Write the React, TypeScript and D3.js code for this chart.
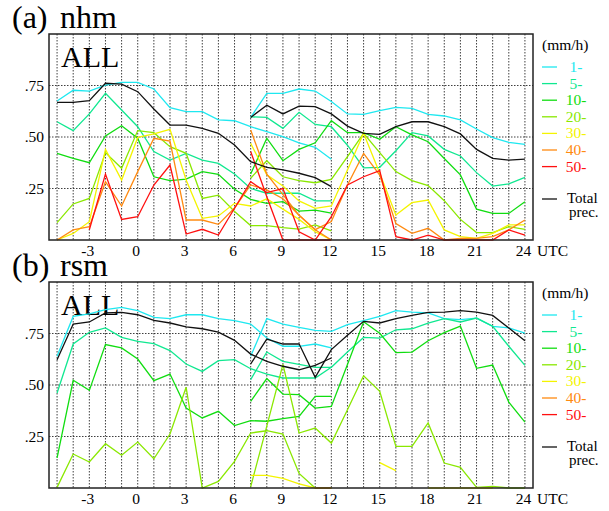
import React from 'react';
import * as d3 from 'd3';

// ---------- axes / labels ----------
const hoursSeg1 = d3.range(-5, 13); // first forecast run: -5 .. 12
const hoursSeg2 = d3.range(7, 25);  // second forecast run: 7 .. 24
const gridHours = d3.range(-5, 25);
const xTicks = [-3, 0, 3, 6, 9, 12, 15, 18, 21, 24];
const yTicks = [0.25, 0.5, 0.75];
const yTickLabels = ['.25', '.50', '.75'];
const classLabels = ['1-', '5-', '10-', '20-', '30-', '40-', '50-'];
const classColors = ['#1ee8f0', '#10e890', '#10dd10', '#8ae800', '#f4f400', '#ff8a10', '#ff1010'];
const totalLabel = ['Total', 'prec.'];

type V = number | null;
const N = null;

// ---------- (a) nhm ----------
const nhmTotal1: V[] = [0.668, 0.668, 0.676, 0.761, 0.757, 0.72, 0.636, 0.558, 0.558, 0.542, 0.518, 0.461, 0.38, 0.353, 0.34, 0.324, 0.303, 0.259];
const nhmTotal2: V[] = [0.595, 0.654, 0.612, 0.65, 0.647, 0.612, 0.553, 0.518, 0.513, 0.55, 0.574, 0.574, 0.55, 0.515, 0.44, 0.396, 0.388, 0.393];
const nhm1mm1: V[] = [0.675, 0.727, 0.723, 0.752, 0.765, 0.765, 0.733, 0.642, 0.623, 0.623, 0.583, 0.579, 0.55, 0.526, 0.502, 0.472, 0.45, 0.392];
const nhm1mm2: V[] = [0.595, 0.712, 0.712, 0.733, 0.723, 0.672, 0.612, 0.61, 0.628, 0.644, 0.639, 0.61, 0.602, 0.583, 0.539, 0.497, 0.474, 0.464];
const nhm5mm1: V[] = [0.574, 0.531, 0.612, 0.712, 0.631, 0.55, 0.429, 0.388, 0.42, 0.388, 0.372, 0.32, 0.25, 0.227, 0.227, 0.227, 0.19, 0.19];
const nhm5mm2: V[] = [0.598, 0.595, 0.542, 0.62, 0.561, 0.55, 0.46, 0.35, 0.353, 0.433, 0.521, 0.505, 0.44, 0.408, 0.327, 0.262, 0.272, 0.304];
const nhm10mm1: V[] = [0.421, 0.396, 0.375, 0.505, 0.555, 0.494, 0.307, 0.288, 0.296, 0.332, 0.319, 0.246, 0.197, 0.178, 0.186, 0.14, 0.145, 0.13];
const nhm10mm2: V[] = [0.32, 0.494, 0.385, 0.44, 0.472, 0.579, 0.521, 0.521, 0.489, 0.55, 0.51, 0.477, 0.396, 0.316, 0.15, 0.129, 0.129, 0.186];
const nhm20mm1: V[] = [0.084, 0.175, 0.202, 0.424, 0.348, 0.531, 0.521, 0.453, 0.421, 0.202, 0.218, 0.138, 0.07, 0.07, 0.06, 0.053, 0.073, 0.044];
const nhm20mm2: V[] = [0.3, 0.385, 0.307, 0.288, 0.278, 0.294, 0.405, 0.518, 0.424, 0.332, 0.288, 0.264, 0.191, 0.1, 0.036, 0.036, 0.065, 0.052];
const nhm30mm1: V[] = [0, 0.032, 0.089, 0.44, 0.291, 0.498, 0.515, 0.537, 0.291, 0.105, 0.117, 0.178, 0.165, 0.2, 0.15, 0.1, 0.04, 0];
const nhm30mm2: V[] = [0.469, 0.316, 0.262, 0.19, 0.154, 0.165, 0.34, 0.518, 0.324, 0.121, 0.181, 0.194, 0.049, 0.016, 0.008, 0.032, 0.073, 0.073];
const nhm40mm1: V[] = [0, 0.049, 0.065, 0.283, 0.165, 0.332, 0.494, 0.48, 0.097, 0.097, 0.076, 0.155, 0.267, 0.243, 0.2, 0.12, 0.05, 0];
const nhm40mm2: V[] = [0.534, 0.32, 0.22, 0.12, 0.05, 0.09, 0.267, 0.42, 0.315, 0.08, 0.032, 0.057, 0, 0.008, 0.008, 0.016, 0.049, 0.097];
const nhm50mm1: V[] = [N, N, 0.05, 0.32, 0.1, 0.113, 0.267, 0.364, 0.029, 0.052, 0.024, 0.154, 0.283, 0.23, 0.25, 0.04, 0, 0];
const nhm50mm2: V[] = [0.43, 0.21, 0, 0, 0, 0.113, 0.267, 0.307, 0.337, 0.016, 0, 0.024, 0, 0, 0, 0, 0.049, 0.024];

// ---------- (b) rsm ----------
const rsmTotal1: V[] = [0.623, 0.796, 0.806, 0.85, 0.853, 0.841, 0.814, 0.801, 0.782, 0.773, 0.757, 0.717, 0.65, 0.615, 0.591, 0.574, 0.595, 0.631];
const rsmTotal2: V[] = [0.602, 0.723, 0.699, 0.7, 0.537, 0.672, 0.741, 0.809, 0.801, 0.822, 0.838, 0.853, 0.854, 0.861, 0.854, 0.838, 0.777, 0.715];
const rsm1mm1: V[] = [0.639, 0.833, 0.845, 0.866, 0.877, 0.861, 0.828, 0.822, 0.841, 0.841, 0.822, 0.812, 0.796, 0.728, 0.688, 0.688, 0.699, 0.68];
const rsm1mm2: V[] = [0.639, 0.822, 0.796, 0.78, 0.765, 0.76, 0.793, 0.812, 0.833, 0.861, 0.854, 0.85, 0.822, 0.817, 0.825, 0.785, 0.777, 0.752];
const rsm5mm1: V[] = [0.461, 0.699, 0.756, 0.777, 0.731, 0.712, 0.701, 0.667, 0.602, 0.566, 0.618, 0.623, 0.579, 0.553, 0.534, 0.534, 0.534, 0.586];
const rsm5mm2: V[] = [0.526, 0.66, 0.615, 0.6, 0.586, 0.586, 0.66, 0.731, 0.728, 0.768, 0.773, 0.8, 0.822, 0.806, 0.825, 0.785, 0.688, 0.595];
const rsm10mm1: V[] = [0.146, 0.523, 0.474, 0.696, 0.68, 0.626, 0.521, 0.553, 0.388, 0.34, 0.372, 0.303, 0.327, 0.324, 0.337, 0.348, 0.445, 0.445];
const rsm10mm2: V[] = [0.421, 0.531, 0.456, 0.453, 0.388, 0.396, 0.6, 0.807, 0.751, 0.657, 0.66, 0.715, 0.754, 0.786, 0.581, 0.597, 0.417, 0.32];
const rsm20mm1: V[] = [0.003, 0.165, 0.126, 0.215, 0.159, 0.223, 0.142, 0.262, 0.489, 0, 0.032, 0.129, 0.267, 0.278, 0.262, 0.071, 0, 0];
const rsm20mm2: V[] = [0.006, 0.3, 0.6, 0.267, 0.291, 0.218, 0.38, 0.545, 0.469, 0.202, 0.202, 0.316, 0.121, 0.1, 0.003, 0.008, 0, 0];
const rsm30mm1: V[] = [N, N, N, N, N, N, N, N, N, N, N, N, 0.061, 0.061, 0.047, 0.02, 0, 0];
const rsm30mm2: V[] = [N, N, N, N, N, N, N, N, 0.123, 0.084, N, 0, 0, 0, 0, 0, N, N];
const rsm40mm1: V[] = [N, N, N, N, N, N, N, N, N, N, N, N, N, N, N, N, 0, 0];
const rsm40mm2: V[] = [N, N, N, N, N, N, N, N, N, N, N, N, N, N, N, N, N, N];
const rsm50mm1: V[] = [N, N, N, N, N, N, N, N, N, N, N, N, N, N, N, N, N, N];
const rsm50mm2: V[] = [N, N, N, N, N, N, N, N, N, N, N, N, N, N, N, N, N, N];

const nhmClasses: [V[], V[]][] = [
  [nhm1mm1, nhm1mm2], [nhm5mm1, nhm5mm2], [nhm10mm1, nhm10mm2], [nhm20mm1, nhm20mm2],
  [nhm30mm1, nhm30mm2], [nhm40mm1, nhm40mm2], [nhm50mm1, nhm50mm2],
];
const rsmClasses: [V[], V[]][] = [
  [rsm1mm1, rsm1mm2], [rsm5mm1, rsm5mm2], [rsm10mm1, rsm10mm2], [rsm20mm1, rsm20mm2],
  [rsm30mm1, rsm30mm2], [rsm40mm1, rsm40mm2], [rsm50mm1, rsm50mm2],
];

const FONT = "'Liberation Serif', 'Times New Roman', Times, serif";
const xScale = d3.scaleLinear().domain([-5.5, 24.5]).range([49, 533]);

type PanelProps = {
  top: number;
  letter: string;
  model: string;
  classes: [V[], V[]][];
  total: [V[], V[]];
};

function Panel({ top, letter, model, classes, total }: PanelProps) {
  const bottom = top + 206;
  const yScale = d3.scaleLinear().domain([0, 1]).range([bottom, top]);
  const line = d3
    .line<[number, V]>()
    .defined((d) => d[1] !== null)
    .x((d) => xScale(d[0]))
    .y((d) => yScale(d[1] as number));
  const seg = (hours: number[], vals: V[]) => line(hours.map((h, i) => [h, vals[i]] as [number, V])) || '';
  const left = xScale.range()[0];
  const right = xScale.range()[1];
  const ts = { fontFamily: FONT };

  return (
    <g>
      <text x={12} y={top - 6} style={ts} fontSize={32}>({letter})</text>
      <text x={60} y={top - 6} style={ts} fontSize={32}>{model}</text>

      {gridHours.map((h) => (
        <line key={'v' + h} x1={xScale(h)} x2={xScale(h)} y1={top} y2={bottom}
          stroke="#000" strokeWidth={1} strokeDasharray="1.5 1.5" opacity={0.75} />
      ))}
      {yTicks.map((v) => (
        <line key={'h' + v} x1={left} x2={right} y1={yScale(v)} y2={yScale(v)}
          stroke="#000" strokeWidth={1} strokeDasharray="1.5 1.5" opacity={0.75} />
      ))}

      <text x={61} y={top + 33} style={ts} fontSize={30}>ALL</text>

      {classes.map((c, i) => (
        <g key={'c' + i} fill="none" stroke={classColors[i]} strokeWidth={1.3}>
          <path d={seg(hoursSeg1, c[0])} />
          <path d={seg(hoursSeg2, c[1])} />
        </g>
      ))}
      <g fill="none" stroke="#111" strokeWidth={1.3}>
        <path d={seg(hoursSeg1, total[0])} />
        <path d={seg(hoursSeg2, total[1])} />
      </g>

      <rect x={left} y={top} width={right - left} height={bottom - top} fill="none" stroke="#222" strokeWidth={1.5} />

      {yTicks.map((v, i) => (
        <text key={'yl' + v} x={44} y={yScale(v) + 5} textAnchor="end" style={ts} fontSize={15.5}>
          {yTickLabels[i]}
        </text>
      ))}
      {xTicks.map((t) => (
        <text key={'xl' + t} x={xScale(t) - 1.5} y={bottom + 16} textAnchor="middle" style={ts} fontSize={15.5}>
          {t}
        </text>
      ))}
      <text x={537} y={bottom + 16} style={ts} fontSize={15.5}>UTC</text>

      <text x={542} y={top + 16} style={ts} fontSize={15.5}>(mm/h)</text>
      {classLabels.map((lab, i) => {
        const yy = top + 33 + i * 16.6;
        return (
          <g key={'lg' + i}>
            <line x1={542} x2={557} y1={yy} y2={yy} stroke={classColors[i]} strokeWidth={1.3} />
            <text x={576} y={yy + 5} textAnchor="middle" style={ts} fontSize={15.5} fill={classColors[i]}>
              {lab}
            </text>
          </g>
        );
      })}
      <line x1={542} x2={557} y1={top + 165} y2={top + 165} stroke="#111" strokeWidth={1.3} />
      <text x={567} y={top + 169} style={ts} fontSize={15}>{totalLabel[0]}</text>
      <text x={569} y={top + 183} style={ts} fontSize={15}>{totalLabel[1]}</text>
    </g>
  );
}

export default function App() {
  return (
    <svg width={609} height={511} viewBox="0 0 609 511"
      style={{ position: 'absolute', left: 0, top: 0, background: '#fff', fontFamily: FONT }}>
      <rect x={0} y={0} width={609} height={511} fill="#fff" />
      <Panel top={34} letter="a" model="nhm" classes={nhmClasses} total={[nhmTotal1, nhmTotal2]} />
      <Panel top={282} letter="b" model="rsm" classes={rsmClasses} total={[rsmTotal1, rsmTotal2]} />
    </svg>
  );
}
